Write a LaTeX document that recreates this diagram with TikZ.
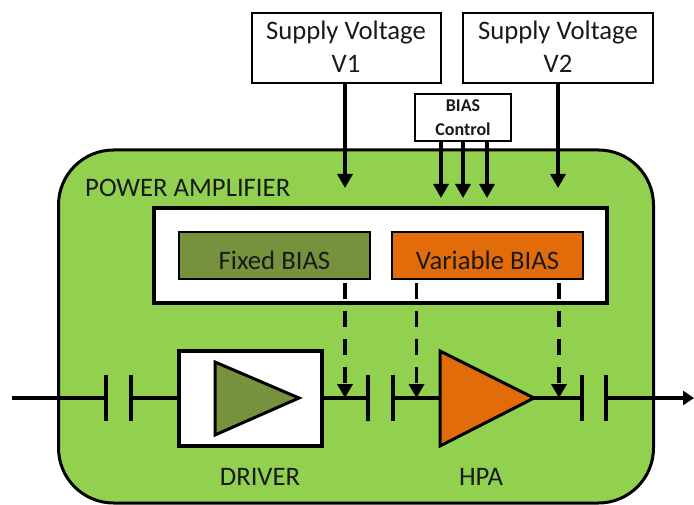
\documentclass[tikz,border=0pt]{standalone}
\usepackage{fontspec}
\setmainfont{Carlito}
\usetikzlibrary{arrows.meta,calc}
\definecolor{pagreen}{HTML}{92D050}
\definecolor{olive}{HTML}{76923C}
\definecolor{hpaorange}{HTML}{E36C0A}
\definecolor{txt}{HTML}{1A1A1A}
\tikzset{
  x=1pt,y=-1pt,
  box/.style={draw=black,line width=1.5pt,fill=white,inner sep=0pt,outer sep=0pt,anchor=north west},
  lbl/.style={text=txt,font=\fontsize{26.7}{26.7}\selectfont,inner sep=0pt},
  wire/.style={draw=black,line width=3.2pt},
  plate/.style={draw=black,line width=3.5pt},
  feed/.style={wire,-{Triangle[length=14pt,width=15pt]}},
  dfeed/.style={draw=black,line width=3.5pt,dash pattern=on 16pt off 12pt,dash phase=24pt,-{Triangle[length=14pt,width=15pt]}},
}
\newcommand{\boxnode}[7][]{\node[#2,minimum width=#5pt,minimum height=#6pt,#1] (#3) at #4 {#7};}
\begin{document}
\begin{tikzpicture}
\useasboundingbox (0,0) rectangle (694,505);
% power amplifier body
\node[draw=black,line width=3pt,fill=pagreen,rounded corners=55pt,minimum width=595pt,minimum height=353pt,anchor=north west,inner sep=0pt,outer sep=0pt] (pa) at (58.5,150) {};
\node[lbl,anchor=west] (patitle) at (85,188) {POWER AMPLIFIER};
% bias panel
\boxnode[line width=4pt]{box}{panel}{(154,208)}{453}{95}{}
\boxnode[fill=olive]{box}{fixed}{(179,232)}{191}{47}{}
\node[lbl] (fixedt) at ($(fixed.center)+(0,4.5)$) {Fixed BIAS};
\boxnode[fill=hpaorange]{box}{var}{(392,232)}{191}{47}{}
\node[lbl] (vart) at ($(var.center)+(0,4.5)$) {Variable BIAS};
% supply and control boxes
\boxnode{box}{v1}{(252,13)}{189}{70}{}
\node[lbl,align=center] (v1t) at (346,46.5) {Supply Voltage\\[6.5pt]V1};
\boxnode{box}{v2}{(463,13)}{190}{70}{}
\node[lbl,align=center] (v2t) at (558,46.5) {Supply Voltage\\[6.5pt]V2};
\boxnode{box}{bc}{(415,94)}{96}{47}{}
\node[lbl,font=\bfseries\fontsize{18}{18}\selectfont,align=center] (bct) at (463,118) {BIAS\\[6pt]Control};
% signal chain coordinates
\coordinate (in) at (12,398);
\coordinate (c1a) at (106,398);
\coordinate (c1b) at (131,398);
\coordinate (c2a) at (368,398);
\coordinate (c2b) at (393,398);
\coordinate (c3a) at (582,398);
\coordinate (c3b) at (606,398);
\coordinate (out) at (694,398);
\coordinate (hpain) at (440,398);
\coordinate (hpaout) at (534,398);
% driver
\boxnode[line width=4pt]{box}{drv}{(179,351)}{143}{95}{}
\draw[draw=black,line width=3pt,fill=olive,line join=miter] (215,362) -- (299,398) -- (215,435) -- cycle;
\node[lbl] (drvl) at (260,477) {DRIVER};
% HPA
\draw[draw=black,line width=3pt,fill=hpaorange,line join=miter] (440,351) -- (534,398) -- (440,446) -- cycle;
\node[lbl] (hpal) at (481,477) {HPA};
% wires
\draw[wire] (in) -- (c1a);
\draw[wire] (c1b) -- (c1b -| drv.west);
\draw[wire] (c1b -| drv.east) -- (c2a);
\draw[wire] (c2b) -- (hpain);
\draw[wire] (hpaout) -- (c3a);
\draw[wire,-{Triangle[length=11pt,width=14pt]}] (c3b) -- (out);
% capacitor plates
\foreach \c in {c1a,c1b,c2a,c2b,c3a,c3b}
  \draw[plate] ($(\c)+(0,-23)$) -- ($(\c)+(0,23)$);
% supply feeds
\coordinate (f1) at (345,188);
\coordinate (f2) at (558,188);
\draw[feed] (v1.south -| f1) -- (f1);
\draw[feed] (v2.south -| f2) -- (f2);
\coordinate (b1) at (441,198);
\coordinate (b2) at (463,198);
\coordinate (b3) at (487,198);
\draw[feed] (bc.south -| b1) -- (b1);
\draw[feed] (bc.south -| b2) -- (b2);
\draw[feed] (bc.south -| b3) -- (b3);
% bias feeds
\coordinate (d1) at (345,398);
\coordinate (d2) at (416.5,398);
\coordinate (d3) at (559,398);
\draw[dfeed] (fixed.south -| d1) -- (d1);
\draw[dfeed] (var.south -| d2) -- (d2);
\draw[dfeed] (var.south -| d3) -- (d3);
\end{tikzpicture}
\end{document}
